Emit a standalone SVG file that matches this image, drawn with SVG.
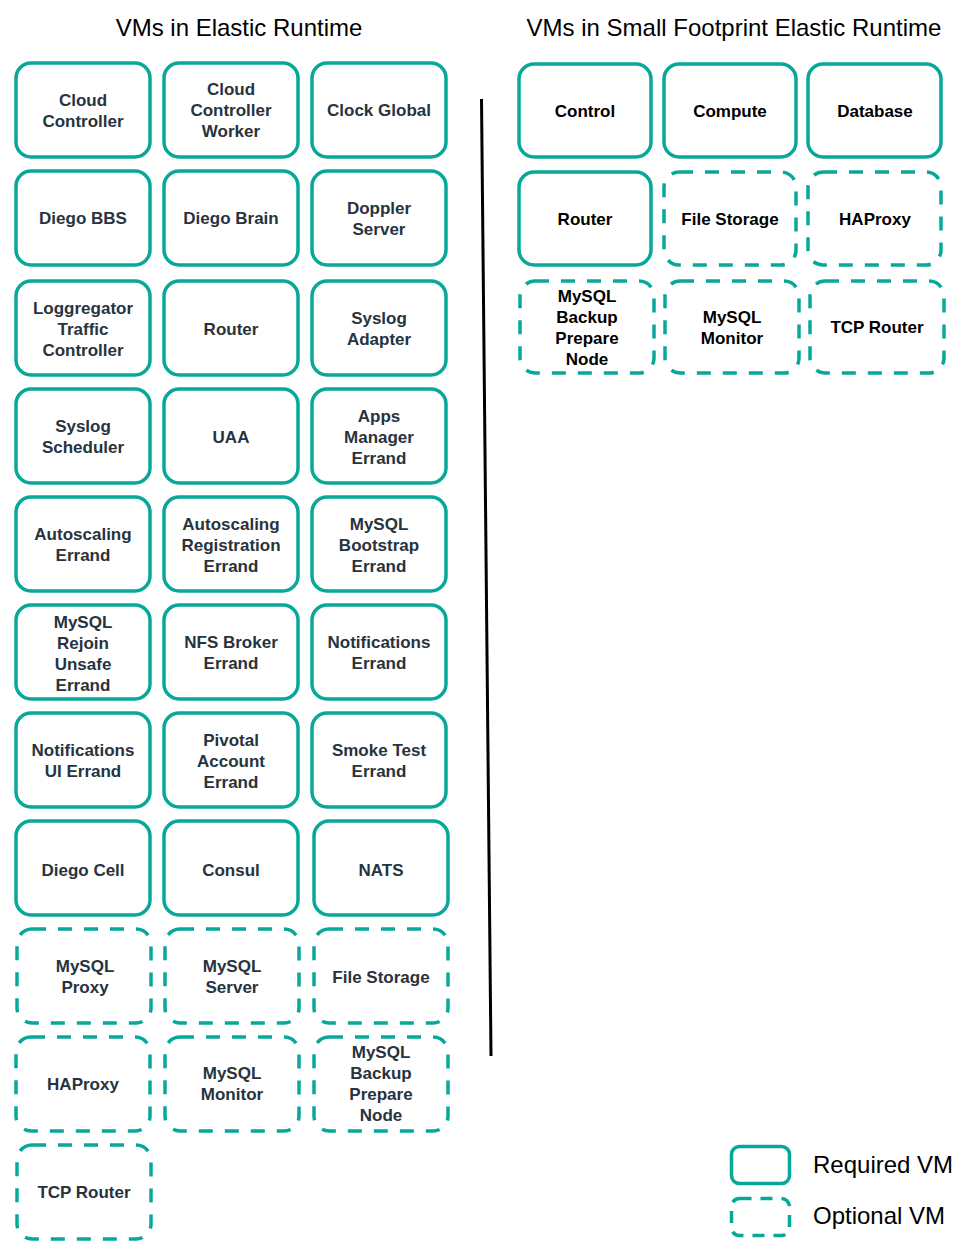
<svg xmlns="http://www.w3.org/2000/svg" width="966" height="1249" viewBox="0 0 966 1249">
<style>
.req{fill:#fff;stroke:#07a899;stroke-width:3.5}
.opt{fill:#fff;stroke:#07a899;stroke-width:3.5;stroke-dasharray:14 12}
.l{font-family:"Liberation Sans",Arial,sans-serif;font-weight:bold;font-size:17px;fill:#27333d;text-anchor:middle}
.r{font-family:"Liberation Sans",Arial,sans-serif;font-weight:bold;font-size:17px;fill:#000;text-anchor:middle}
.t{font-family:"Liberation Sans",Arial,sans-serif;font-size:24px;fill:#000}
</style>
<text class="t" x="239" y="36" text-anchor="middle">VMs in Elastic Runtime</text>
<text class="t" x="734" y="36" text-anchor="middle">VMs in Small Footprint Elastic Runtime</text>
<g id="connectors"><line x1="481.5" y1="99" x2="491" y2="1056" stroke="#000" stroke-width="3"/></g>

<g id="cloud-controller"><rect class="req" x="16" y="63" width="134" height="94" rx="15"/><text class="l" x="83"><tspan x="83" y="106">Cloud</tspan><tspan x="83" y="127">Controller</tspan></text></g>
<g id="cloud-controller-worker"><rect class="req" x="164" y="63" width="134" height="94" rx="15"/><text class="l"><tspan x="231" y="95">Cloud</tspan><tspan x="231" y="116">Controller</tspan><tspan x="231" y="137">Worker</tspan></text></g>
<g id="clock-global"><rect class="req" x="312" y="63" width="134" height="94" rx="15"/><text class="l" x="379" y="116">Clock Global</text></g>

<g id="diego-bbs"><rect class="req" x="16" y="171" width="134" height="94" rx="15"/><text class="l" x="83" y="224">Diego BBS</text></g>
<g id="diego-brain"><rect class="req" x="164" y="171" width="134" height="94" rx="15"/><text class="l" x="231" y="224">Diego Brain</text></g>
<g id="doppler-server"><rect class="req" x="312" y="171" width="134" height="94" rx="15"/><text class="l"><tspan x="379" y="214">Doppler</tspan><tspan x="379" y="235">Server</tspan></text></g>

<g id="loggregator"><rect class="req" x="16" y="281" width="134" height="94" rx="15"/><text class="l"><tspan x="83" y="314">Loggregator</tspan><tspan x="83" y="335">Traffic</tspan><tspan x="83" y="356">Controller</tspan></text></g>
<g id="router"><rect class="req" x="164" y="281" width="134" height="94" rx="15"/><text class="l" x="231" y="335">Router</text></g>
<g id="syslog-adapter"><rect class="req" x="312" y="281" width="134" height="94" rx="15"/><text class="l"><tspan x="379" y="324">Syslog</tspan><tspan x="379" y="345">Adapter</tspan></text></g>

<g id="syslog-scheduler"><rect class="req" x="16" y="389" width="134" height="94" rx="15"/><text class="l"><tspan x="83" y="432">Syslog</tspan><tspan x="83" y="453">Scheduler</tspan></text></g>
<g id="uaa"><rect class="req" x="164" y="389" width="134" height="94" rx="15"/><text class="l" x="231" y="443">UAA</text></g>
<g id="apps-manager"><rect class="req" x="312" y="389" width="134" height="94" rx="15"/><text class="l"><tspan x="379" y="422">Apps</tspan><tspan x="379" y="443">Manager</tspan><tspan x="379" y="464">Errand</tspan></text></g>

<g id="autoscaling-errand"><rect class="req" x="16" y="497" width="134" height="94" rx="15"/><text class="l"><tspan x="83" y="540">Autoscaling</tspan><tspan x="83" y="561">Errand</tspan></text></g>
<g id="autoscaling-registration"><rect class="req" x="164" y="497" width="134" height="94" rx="15"/><text class="l"><tspan x="231" y="530">Autoscaling</tspan><tspan x="231" y="551">Registration</tspan><tspan x="231" y="572">Errand</tspan></text></g>
<g id="mysql-bootstrap"><rect class="req" x="312" y="497" width="134" height="94" rx="15"/><text class="l"><tspan x="379" y="530">MySQL</tspan><tspan x="379" y="551">Bootstrap</tspan><tspan x="379" y="572">Errand</tspan></text></g>

<g id="mysql-rejoin"><rect class="req" x="16" y="605" width="134" height="94" rx="15"/><text class="l"><tspan x="83" y="628">MySQL</tspan><tspan x="83" y="649">Rejoin</tspan><tspan x="83" y="670">Unsafe</tspan><tspan x="83" y="691">Errand</tspan></text></g>
<g id="nfs-broker"><rect class="req" x="164" y="605" width="134" height="94" rx="15"/><text class="l"><tspan x="231" y="648">NFS Broker</tspan><tspan x="231" y="669">Errand</tspan></text></g>
<g id="notifications-errand"><rect class="req" x="312" y="605" width="134" height="94" rx="15"/><text class="l"><tspan x="379" y="648">Notifications</tspan><tspan x="379" y="669">Errand</tspan></text></g>

<g id="notifications-ui"><rect class="req" x="16" y="713" width="134" height="94" rx="15"/><text class="l"><tspan x="83" y="756">Notifications</tspan><tspan x="83" y="777">UI Errand</tspan></text></g>
<g id="pivotal-account"><rect class="req" x="164" y="713" width="134" height="94" rx="15"/><text class="l"><tspan x="231" y="746">Pivotal</tspan><tspan x="231" y="767">Account</tspan><tspan x="231" y="788">Errand</tspan></text></g>
<g id="smoke-test"><rect class="req" x="312" y="713" width="134" height="94" rx="15"/><text class="l"><tspan x="379" y="756">Smoke Test</tspan><tspan x="379" y="777">Errand</tspan></text></g>

<g id="diego-cell"><rect class="req" x="16" y="821" width="134" height="94" rx="15"/><text class="l" x="83" y="876">Diego Cell</text></g>
<g id="consul"><rect class="req" x="164" y="821" width="134" height="94" rx="15"/><text class="l" x="231" y="876">Consul</text></g>
<g id="nats"><rect class="req" x="314" y="821" width="134" height="94" rx="15"/><text class="l" x="381" y="876">NATS</text></g>

<g id="mysql-proxy"><rect class="opt" x="17" y="929" width="134" height="94" rx="15"/><text class="l"><tspan x="85" y="972">MySQL</tspan><tspan x="85" y="993">Proxy</tspan></text></g>
<g id="mysql-server"><rect class="opt" x="165" y="929" width="134" height="94" rx="15"/><text class="l"><tspan x="232" y="972">MySQL</tspan><tspan x="232" y="993">Server</tspan></text></g>
<g id="file-storage"><rect class="opt" x="314" y="929" width="134" height="94" rx="15"/><text class="l" x="381" y="983">File Storage</text></g>

<g id="haproxy"><rect class="opt" x="16" y="1037" width="134" height="94" rx="15"/><text class="l" x="83" y="1090">HAProxy</text></g>
<g id="mysql-monitor"><rect class="opt" x="165" y="1037" width="134" height="94" rx="15"/><text class="l"><tspan x="232" y="1079">MySQL</tspan><tspan x="232" y="1100">Monitor</tspan></text></g>
<g id="mysql-backup"><rect class="opt" x="314" y="1037" width="134" height="94" rx="15"/><text class="l"><tspan x="381" y="1058">MySQL</tspan><tspan x="381" y="1079">Backup</tspan><tspan x="381" y="1100">Prepare</tspan><tspan x="381" y="1121">Node</tspan></text></g>

<g id="tcp-router"><rect class="opt" x="17" y="1145" width="134" height="94" rx="15"/><text class="l" x="84" y="1198">TCP Router</text></g>

<g id="sf-control"><rect class="req" x="519" y="64" width="132" height="93" rx="15"/><text class="r" x="585" y="117">Control</text></g>
<g id="sf-compute"><rect class="req" x="664" y="64" width="132" height="93" rx="15"/><text class="r" x="730" y="117">Compute</text></g>
<g id="sf-database"><rect class="req" x="808" y="64" width="133" height="93" rx="15"/><text class="r" x="875" y="117">Database</text></g>

<g id="sf-router"><rect class="req" x="519" y="172" width="132" height="93" rx="15"/><text class="r" x="585" y="225">Router</text></g>
<g id="sf-file-storage"><rect class="opt" x="664" y="172" width="132" height="93" rx="15"/><text class="r" x="730" y="225">File Storage</text></g>
<g id="sf-haproxy"><rect class="opt" x="808" y="172" width="133" height="93" rx="15"/><text class="r" x="875" y="225">HAProxy</text></g>

<g id="sf-mysql-backup"><rect class="opt" x="520" y="281" width="134" height="92" rx="15"/><text class="r"><tspan x="587" y="302">MySQL</tspan><tspan x="587" y="323">Backup</tspan><tspan x="587" y="344">Prepare</tspan><tspan x="587" y="365">Node</tspan></text></g>
<g id="sf-mysql-monitor"><rect class="opt" x="665" y="281" width="134" height="92" rx="15"/><text class="r"><tspan x="732" y="323">MySQL</tspan><tspan x="732" y="344">Monitor</tspan></text></g>
<g id="sf-tcp-router"><rect class="opt" x="810" y="281" width="134" height="92" rx="15"/><text class="r" x="877" y="333">TCP Router</text></g>

<g id="legend">
<rect class="req" x="731.5" y="1146.5" width="58" height="37" rx="8"/>
<text class="t" x="813" y="1173">Required VM</text>
<rect class="opt" x="731.5" y="1198.5" width="58" height="37" rx="8" style="stroke-dasharray:12 9"/>
<text class="t" x="813" y="1224">Optional VM</text>
</g>
</svg>
